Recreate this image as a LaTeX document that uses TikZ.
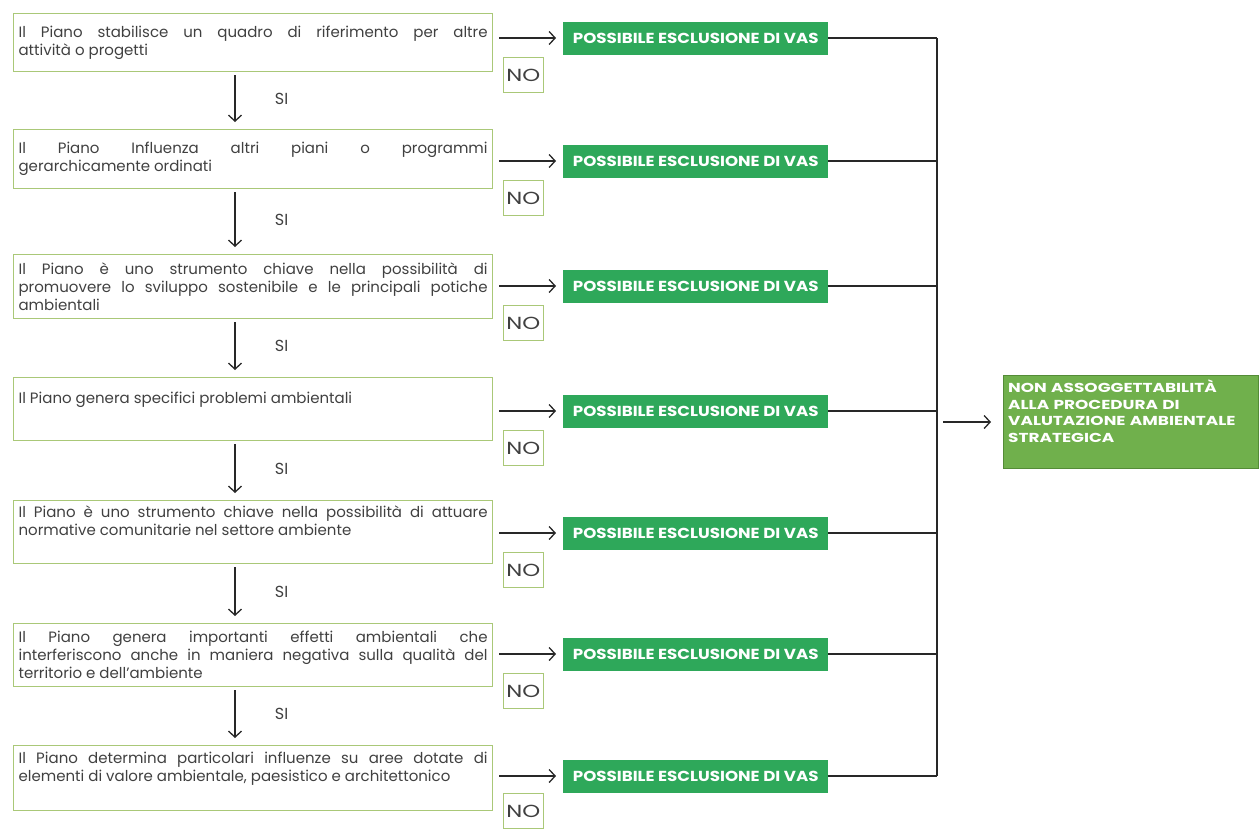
\documentclass[tikz,border=0pt]{standalone}
\usepackage{fontspec}
\setmainfont{Poppins}
\newfontfamily\widefont{Poppins}[FakeStretch=1.15]
\newfontfamily\widerfont{Poppins}[FakeStretch=1.3]
\usetikzlibrary{arrows.meta}
\definecolor{boxc}{RGB}{170,200,120}
\definecolor{txtc}{RGB}{64,64,64}
\definecolor{vasc}{RGB}{46,168,90}
\definecolor{finc}{RGB}{112,176,76}
\definecolor{finb}{RGB}{84,140,55}
\definecolor{linec}{RGB}{40,40,40}
\newcommand{\qfont}{\fontsize{15}{18}\selectfont}
\tikzset{
  qbox/.style={draw=boxc, line width=1.2pt, text width=469pt, inner xsep=5pt, inner ysep=0pt,
    minimum height=#1, anchor=north west, align=justify, font=\qfont, text=txtc},
  vasbox/.style={fill=vasc, text=white, minimum width=265pt, minimum height=33pt, inner sep=0pt,
    anchor=west, font=\widefont\bfseries\fontsize{14.5}{16}\selectfont},
  nobox/.style={draw=boxc, line width=0.8pt, minimum width=40pt, minimum height=35pt, inner sep=0pt,
    anchor=north west, font=\widerfont\fontsize{17.5}{20}\selectfont, text=txtc},
  arr/.style={-{Straight Barb[length=6pt,width=13pt]}, line width=1.3pt, draw=linec},
  conn/.style={line width=1.3pt, draw=linec},
  silab/.style={font=\fontsize{16}{17}\selectfont, text=txtc, anchor=west},
  finbox/.style={fill=finc, draw=finb, line width=1pt, minimum width=255pt, minimum height=93pt,
    inner sep=0pt, anchor=north west},
  fintext/.style={text width=245pt, inner sep=0pt, align=left, anchor=north west, text=white,
    font=\widerfont\bfseries\fontsize{13}{16.5}\selectfont}
}
\begin{document}
\begin{tikzpicture}[x=1pt,y=-1pt]
\useasboundingbox (0,0) rectangle (1260,828);
% question boxes
\node[qbox=58pt] (B1) at (13,13) {Il Piano stabilisce un quadro di riferimento per altre\linebreak attività o progetti};
\node[qbox=59pt] (B2) at (13,129) {Il Piano Influenza altri piani o programmi\linebreak gerarchicamente ordinati};
\node[qbox=64pt] (B3) at (13,254) {Il Piano è uno strumento chiave nella possibilità di\linebreak promuovere lo sviluppo sostenibile e le principali potiche\linebreak ambientali};
\node[qbox=63pt] (B4) at (13,377) {Il Piano genera specifici problemi ambientali\\\strut};
\node[qbox=63pt] (B5) at (13,500) {Il Piano è uno strumento chiave nella possibilità di attuare\linebreak normative comunitarie nel settore ambiente\\\strut};
\node[qbox=63pt] (B6) at (13,623) {Il Piano genera importanti effetti ambientali che\linebreak interferiscono anche in maniera negativa sulla qualità del\linebreak territorio e dell’ambiente};
\node[qbox=65pt] (B7) at (13,745) {Il Piano determina particolari influenze su aree dotate di\linebreak elementi di valore ambientale, paesistico e architettonico\\\strut};
% VAS boxes
\node[vasbox] (V1) at (563,38) {POSSIBILE ESCLUSIONE DI VAS};
\node[vasbox] (V2) at (563,161) {POSSIBILE ESCLUSIONE DI VAS};
\node[vasbox] (V3) at (563,286) {POSSIBILE ESCLUSIONE DI VAS};
\node[vasbox] (V4) at (563,411) {POSSIBILE ESCLUSIONE DI VAS};
\node[vasbox] (V5) at (563,533) {POSSIBILE ESCLUSIONE DI VAS};
\node[vasbox] (V6) at (563,654) {POSSIBILE ESCLUSIONE DI VAS};
\node[vasbox] (V7) at (563,776) {POSSIBILE ESCLUSIONE DI VAS};
% NO boxes
\node[nobox] (N1) at (503,57) {NO};
\node[nobox] (N2) at (503,180) {NO};
\node[nobox] (N3) at (503,305) {NO};
\node[nobox] (N4) at (503,430) {NO};
\node[nobox] (N5) at (503,552) {NO};
\node[nobox] (N6) at (503,673) {NO};
\node[nobox] (N7) at (503,793) {NO};
% final box
\node[finbox] (F) at (1003,375) {};
\node[fintext] (Ft) at (1008,380) {NON ASSOGGETTABILITÀ\\ALLA PROCEDURA DI\\VALUTAZIONE AMBIENTALE\\STRATEGICA};
% coordinates
\coordinate (ax) at (235,0);
\coordinate (vx) at (937,0);
% down arrows with SI
\foreach \a/\b in {B1/B2,B2/B3,B3/B4,B4/B5,B5/B6,B6/B7}{
  \draw[arr] ([yshift=-3pt]\a.south -| ax) -- ([yshift=7pt]\b.north -| ax)
    node[midway, silab, xshift=36pt] {SI};
}
% right arrows
\foreach \i in {1,...,7}{
  \draw[arr] ([xshift=6pt]B\i.east |- V\i.west) -- ([xshift=-7pt]V\i.west);
  \draw[conn] (V\i.east) -- (V\i.east -| vx);
}
\draw[conn] (V1.east -| vx) -- (V7.east -| vx);
\coordinate (fs) at ([xshift=6pt]F.west -| vx);
\draw[arr] (fs) -- ([xshift=-12pt]F.west);
\end{tikzpicture}
\end{document}
